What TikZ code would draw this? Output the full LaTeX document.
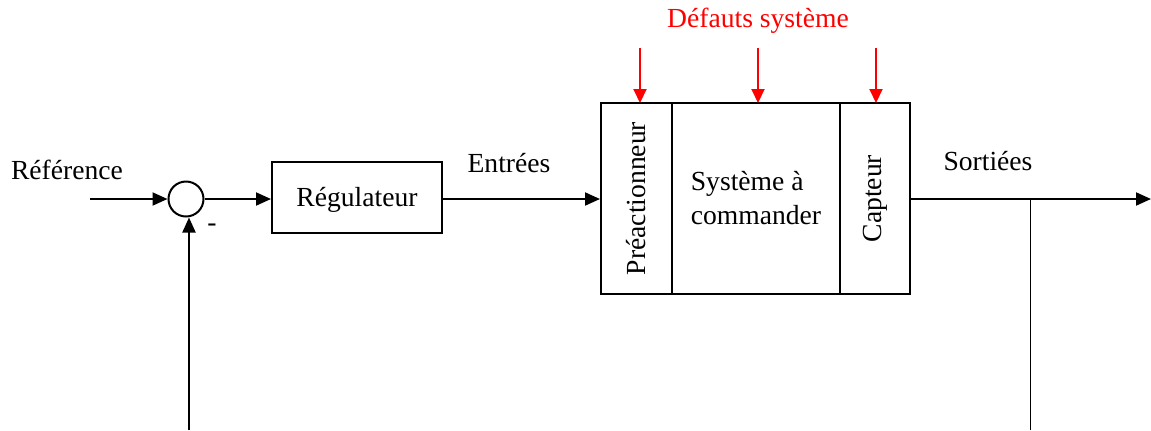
\documentclass[tikz,border=0pt]{standalone}
\usepackage{fontspec}
\setmainfont{Liberation Serif}
\usepackage{tikz}
\usepackage{xcolor}
\usetikzlibrary{arrows.meta,calc,positioning}
\definecolor{fdRed}{RGB}{255,0,0}
\tikzset{
  blocbox/.style={draw,line width=1pt,minimum height=35.5pt,minimum width=85pt},
  sigline/.style={line width=1pt},
  sigarrow/.style={line width=1pt,-{Triangle[length=7.5pt,width=6.5pt]}},
  fdarrow/.style={fdRed,line width=1pt,-{Triangle[length=7pt,width=6.5pt]}},
  lbl/.style={font=\fontsize{13.8}{17}\selectfont}
}

\begin{document}
\begin{tikzpicture}[x=0.5pt,y=-0.5pt]
  \useasboundingbox (0,0) rectangle (1151,430);
  % entree et comparateur
  \node[lbl] (ref) at (67,170) {Référence};
  \coordinate (refin) at (90,199);
  \node[draw,circle,line width=1pt,minimum size=17.5pt,inner sep=0pt] (cmp) at (186,199) {};
  \node[lbl] (moins) at (212,228) {-};
  \node[blocbox,lbl,text depth=1pt] (reg) at (357,197.5) {Régulateur};
  \node[lbl] (entrees) at (509,163) {Entrées};
  % systeme
  \node[draw,line width=1pt,minimum width=35.5pt,minimum height=95.5pt,inner sep=0pt] (preact) at (636.5,198.5) {};
  \node[draw,line width=1pt,minimum width=84pt,minimum height=95.5pt,inner sep=0pt] (sys) at (756,198.5) {};
  \node[draw,line width=1pt,minimum width=35pt,minimum height=95.5pt,inner sep=0pt] (capt) at (875,198.5) {};
  \node[lbl,rotate=90] at (preact) {Préactionneur};
  \node[lbl,rotate=90] at (capt) {Capteur};
  \node[lbl,align=left] at (sys) {Système à\\commander};
  % defauts
  \node[lbl,text=fdRed] (def) at (758,21) {Défauts système};
  \foreach \xx/\nn in {640/preact,758/sys,876/capt}{
    \draw[fdarrow] (\xx,48) -- (\xx,103);
  }
  % sortie
  \node[lbl] (sort) at (988,161) {Sortiées};
  \coordinate (out) at (1151,199);
  \coordinate (br) at (1030,199);
  \coordinate (brbot) at (1030,430);
  \coordinate (fbbot) at (189,430);
  \draw[sigarrow] (refin) -- (cmp.west);
  \draw[sigarrow] (cmp.east) -- (cmp.east -| reg.west);
  \draw[sigarrow] (reg.east |- 0,199) -- (preact.west |- 0,199);
  \draw[sigarrow] (capt.east |- 0,199) -- (out);
  \draw[line width=0.5pt] (br) -- (brbot);
  \draw[sigarrow] (fbbot) -- (fbbot |- cmp.south);
\end{tikzpicture}
\end{document}
